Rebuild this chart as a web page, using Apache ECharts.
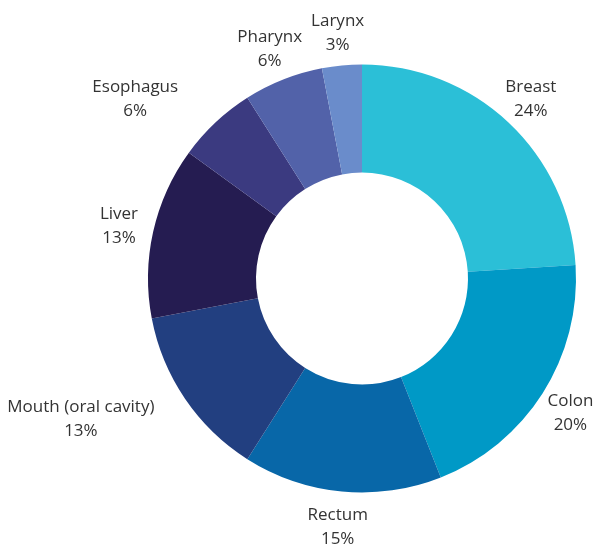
<!DOCTYPE html>
<html><head><meta charset="utf-8">
<script src="https://cdn.jsdelivr.net/npm/echarts@6/dist/echarts.min.js"></script>
<style>html,body{margin:0;padding:0;background:#fff}#c{width:593px;height:546px}</style>
</head><body><div id="c"></div>
<script>
const categories = ['Breast','Colon','Rectum','Mouth (oral cavity)','Liver','Esophagus','Pharynx','Larynx'];
const values = [24,20,15,13,13,6,6,3];
const colors = ['#2bbfd7','#0099c6','#0867a8','#223f80','#251c51','#3b3a80','#5262a9','#6a8ccb'];
const labelShift = {3:[-75,0],5:[-56,0]};

const chart = echarts.init(document.getElementById('c'));
const donutData = categories.map((n,i)=>({name:n,value:values[i],itemStyle:{color:colors[i]}}));
const labelData = categories.map((n,i)=>({name:n,value:values[i],label: labelShift[i]?{offset:labelShift[i]}:{}}));
chart.setOption({
  animation:false,
  series:[
    {type:'pie',center:[362,278.5],radius:[106,214],startAngle:90,clockwise:true,
     silent:true,label:{show:false},labelLine:{show:false},data:donutData},
    {type:'pie',center:[361,280],radius:[196,294],startAngle:90,clockwise:true,silent:true,
     itemStyle:{color:'rgba(0,0,0,0)'},
     label:{show:true,position:'inside',formatter:p=>p.name+'\n'+p.value+'%',
       fontFamily:'Open Sans',fontSize:17,color:'#333',lineHeight:24,align:'center'},
     labelLine:{show:false},data:labelData}
  ]
});
</script></body></html>
